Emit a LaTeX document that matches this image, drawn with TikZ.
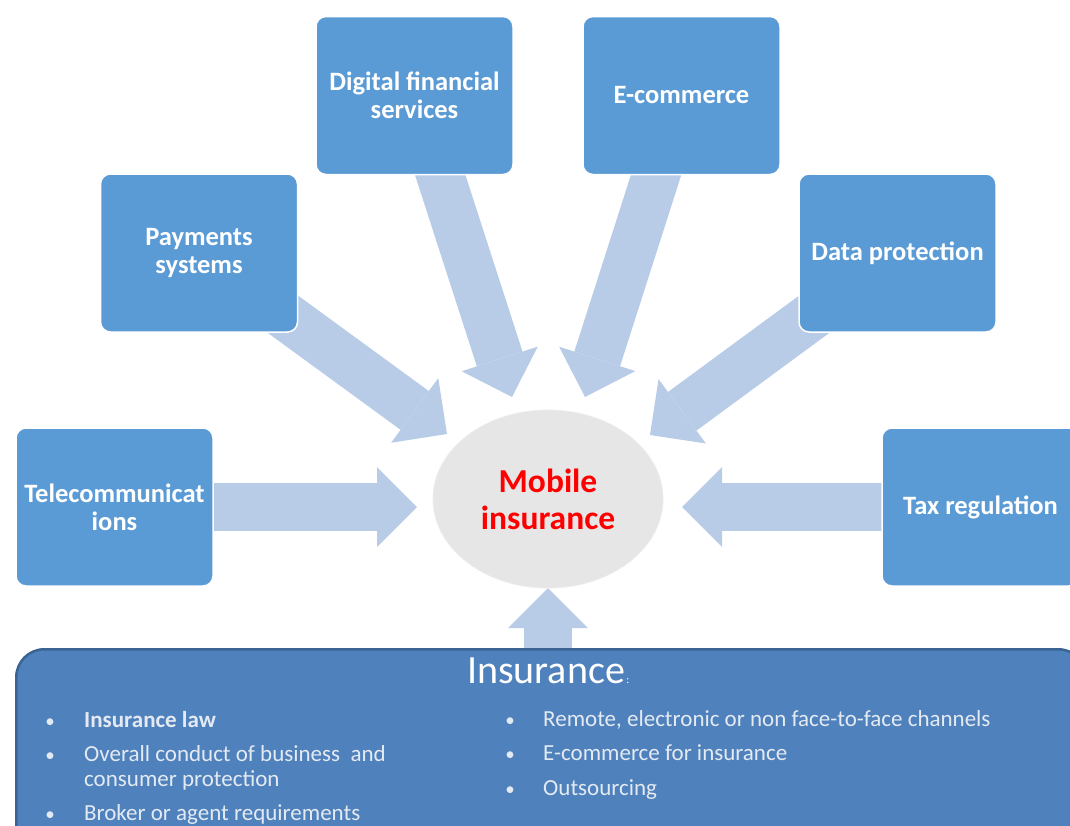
\documentclass[tikz,border=0pt]{standalone}
\usepackage{fontspec}
\setmainfont{Carlito}
\usetikzlibrary{arrows.meta,shapes.geometric}
\definecolor{boxblue}{HTML}{5B9BD5}
\definecolor{arrowblue}{HTML}{B8CCE8}
\definecolor{insblue}{HTML}{4F81BD}
\definecolor{insborder}{HTML}{3B6394}
\definecolor{ellgray}{HTML}{E6E6E6}
\definecolor{bullettext}{HTML}{E4EAF2}
\definecolor{mobred}{HTML}{FF0000}
\pgfdeclarelayer{bg}
\pgfsetlayers{bg,main}
\begin{document}
\begin{tikzpicture}[x=1pt,y=-1pt,
  topicbox/.style={rectangle, rounded corners=10pt, fill=boxblue, draw=white,
    line width=1.5pt, minimum width=197pt, minimum height=158pt, text=white,
    font=\fontsize{26.5}{28}\selectfont\bfseries, align=center, inner sep=0pt},
  fatarrow/.style={draw=arrowblue, line width=48pt,
    -{Triangle[length=40pt,width=80pt,line width=0pt]}},
  bul/.style={font=\fontsize{23}{26}\selectfont, text=bullettext,
    anchor=base west, inner sep=0pt},
  dot/.style={font=\fontsize{19}{24}\selectfont, text=bullettext,
    anchor=base, inner sep=0pt}
]
\useasboundingbox (0,0) rectangle (1070,825);
\clip (0,0) rectangle (1070,825);

% topic boxes
\node[topicbox] (dfs)  at (414.5,95.5) {Digital financial\\services};
\node[topicbox] (ecom) at (681.5,95.5) {E-commerce};
\node[topicbox] (pay)  at (199,253)    {Payments\\systems};
\node[topicbox] (data) at (897.5,253)  {Data protection};
\node[topicbox] (tele) at (114.5,507)  {Telecommunicat\\ions};
\node[topicbox] (tax)  at (980.5,507)  {Tax regulation};

% central ellipse
\node[ellipse, fill=ellgray, draw=white!85!gray, line width=0.8pt,
  minimum width=230pt, minimum height=178pt, inner sep=0pt,
  text=mobred, font=\fontsize{33.5}{37}\selectfont\bfseries, align=center]
  (mob) at (548,499) {Mobile\\insurance};

% insurance box
\node[rectangle, rounded corners=28pt, fill=insblue, draw=insborder,
  line width=2.5pt, minimum width=1070pt, minimum height=220pt,
  anchor=north west, inner sep=0pt] (ins) at (15,648) {};

\node[font=\fontsize{40}{40}\selectfont, text=white, anchor=base, inner sep=0pt]
  (title) at (546,683) {Insurance};
\node[font=\fontsize{11}{11}\selectfont, text=white, anchor=base west, inner sep=0pt]
  (colon) at ([xshift=1pt]title.base east) {:};

% left column
\node[dot] (d1) at (50,727) {•};
\node[bul] (l1) at (84,727) {\bfseries Insurance law};
\node[dot] (d2) at (50,761) {•};
\node[bul] (l2) at (84,761) {Overall conduct of business~ and};
\node[bul] (l3) at (84,786) {consumer protection};
\node[dot] (d3) at (50,820) {•};
\node[bul] (l4) at (84,820) {Broker or agent requirements};

% right column
\node[dot] (d4) at (510,726) {•};
\node[bul] (r1) at (543,726) {Remote, electronic or non face-to-face channels};
\node[dot] (d5) at (510,760) {•};
\node[bul] (r2) at (543,760) {E-commerce for insurance};
\node[dot] (d6) at (510,795) {•};
\node[bul] (r3) at (543,795) {Outsourcing};

% arrow tips
\coordinate (tDfs)  at (512,397);
\coordinate (tEcom) at (585,397);
\coordinate (tPay)  at (447,434);
\coordinate (tData) at (650,435);
\coordinate (tTele) at (417,507);
\coordinate (tTax)  at (682,507);
\coordinate (tIns)  at (548,588);

\begin{pgfonlayer}{bg}
\draw[fatarrow] (dfs.center)  -- (tDfs);
\draw[fatarrow] (ecom.center) -- (tEcom);
\draw[fatarrow] (pay.center)  -- (tPay);
\draw[fatarrow] (data.center) -- (tData);
\draw[fatarrow] (tele.center) -- (tTele);
\draw[fatarrow] (tax.center)  -- (tTax);
\draw[fatarrow] (tIns |- ins.center) -- (tIns);
\end{pgfonlayer}
\end{tikzpicture}
\end{document}
